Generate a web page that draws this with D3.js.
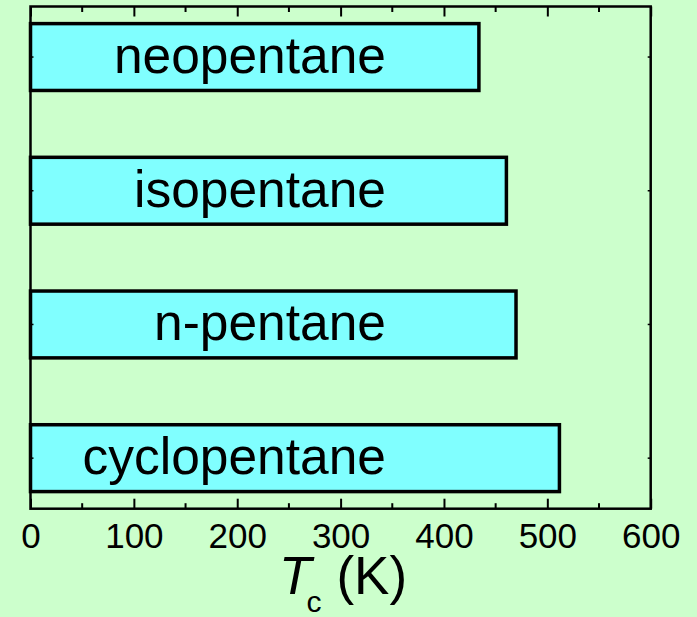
<!DOCTYPE html>
<html>
<head>
<meta charset="utf-8">
<script src="https://cdn.jsdelivr.net/npm/d3@7"></script>
<style>
  html, body { margin: 0; padding: 0; background: #ccffcc; }
  svg { display: block; }
  text { font-family: "Liberation Sans", Arial, sans-serif; fill: #000; }
</style>
</head>
<body>
<svg id="chart" width="697" height="617"></svg>
<script>
const categories = ["neopentane", "isopentane", "n-pentane", "cyclopentane"];
const tcValues = [433.8, 460.4, 469.7, 511.7];
const majorTicks = [0, 100, 200, 300, 400, 500, 600];
const minorTicks = [50, 150, 250, 350, 450, 550];

(function () {
const svg = d3.select("#chart");
const W = 697, H = 617;
const pLeft = 30.5, pRight = 650.7, pTop = 6.5, pBottom = 508.7;

svg.append("rect").attr("width", W).attr("height", H).attr("fill", "#ccffcc");

const x = d3.scaleLinear().domain([0, 600]).range([pLeft, pRight]);
const y = d3.scaleBand().domain(categories).range([pTop, pBottom])
  .paddingInner(0.5).paddingOuter(0.128);

// bars
svg.append("g").selectAll("rect").data(categories).join("rect")
  .attr("x", x(0))
  .attr("y", d => y(d))
  .attr("width", (d, i) => x(tcValues[i]) - x(0))
  .attr("height", y.bandwidth())
  .attr("fill", "#80ffff")
  .attr("stroke", "#000")
  .attr("stroke-width", 3.5);

// bar labels (right-aligned)
svg.append("g").selectAll("text").data(categories).join("text")
  .attr("x", 386)
  .attr("y", d => y(d) + y.bandwidth() / 2 + 16)
  .attr("text-anchor", "end")
  .attr("font-size", 51.5)
  .text(d => d);

// bottom axis (ticks inward)
const axB = d3.axisBottom(x).tickValues(majorTicks).tickSize(-10).tickPadding(14).tickFormat(d3.format("d"));
const gB = svg.append("g").attr("transform", `translate(0,${pBottom})`).call(axB);
gB.select(".domain").remove();
gB.selectAll(".tick line").attr("stroke", "#000").attr("stroke-width", 2);
gB.selectAll(".tick text").attr("font-size", 35).attr("font-family", "Liberation Sans, Arial, sans-serif").attr("fill", "#000").attr("dy", "0.71em").attr("y", 14);
gB.selectAll(".minor").data(minorTicks).join("line").attr("class", "minor")
  .attr("x1", d => x(d)).attr("x2", d => x(d)).attr("y1", 0).attr("y2", -5.5)
  .attr("stroke", "#000").attr("stroke-width", 2);

// top axis (mirror, no labels)
const axT = d3.axisTop(x).tickValues(majorTicks).tickSize(-10).tickFormat("");
const gT = svg.append("g").attr("transform", `translate(0,${pTop})`).call(axT);
gT.select(".domain").remove();
gT.selectAll(".tick line").attr("stroke", "#000").attr("stroke-width", 2);
gT.selectAll(".minor").data(minorTicks).join("line").attr("class", "minor")
  .attr("x1", d => x(d)).attr("x2", d => x(d)).attr("y1", 0).attr("y2", 5.5)
  .attr("stroke", "#000").attr("stroke-width", 2);

// left / right axes (small inward ticks at category centers)
const axL = d3.axisLeft(y).tickSize(-3).tickFormat("");
const gL = svg.append("g").attr("transform", `translate(${pLeft},0)`).call(axL);
gL.select(".domain").remove();
gL.selectAll(".tick line").attr("stroke", "#000").attr("stroke-width", 1.5);
const axR = d3.axisRight(y).tickSize(-3).tickFormat("");
const gR = svg.append("g").attr("transform", `translate(${pRight},0)`).call(axR);
gR.select(".domain").remove();
gR.selectAll(".tick line").attr("stroke", "#000").attr("stroke-width", 1.5);

// frame
svg.append("rect").attr("x", pLeft).attr("y", pTop)
  .attr("width", pRight - pLeft).attr("height", pBottom - pTop)
  .attr("fill", "none").attr("stroke", "#000").attr("stroke-width", 2.5);

// axis title
const title = svg.append("text").attr("x", 279).attr("y", 594).attr("font-size", 53);
title.append("tspan").attr("font-style", "italic").text("T");
title.append("tspan").attr("font-size", 30).attr("dx", -5).attr("dy", 18).text("c");
title.append("tspan").attr("dx", 15).attr("dy", -18).text("(K)");
})();
</script>
</body>
</html>
